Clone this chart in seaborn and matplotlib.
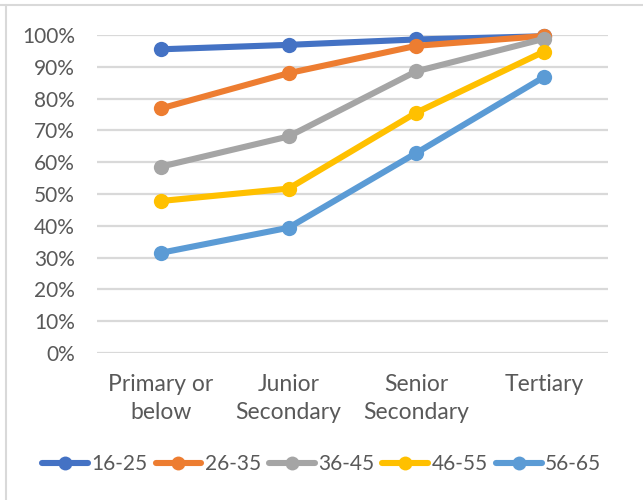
import matplotlib
matplotlib.use("Agg")
import matplotlib.pyplot as plt
import matplotlib.lines as mlines
import seaborn as sns
import pandas as pd
from matplotlib.ticker import PercentFormatter

levels = ["Primary or\nbelow", "Junior\nSecondary", "Senior\nSecondary", "Tertiary"]
age_groups = ["16-25", "26-35", "36-45", "46-55", "56-65"]

rate_16_25 = [95.5, 96.9, 98.6, 99.6]
rate_26_35 = [76.9, 88.0, 96.6, 99.7]
rate_36_45 = [58.6, 68.1, 88.6, 98.8]
rate_46_55 = [47.8, 51.7, 75.6, 94.8]
rate_56_65 = [31.5, 39.4, 62.9, 86.8]

colors = ["#4472C4", "#ED7D31", "#A5A5A5", "#FFC000", "#5B9BD5"]

series = [rate_16_25, rate_26_35, rate_36_45, rate_46_55, rate_56_65]
df = pd.DataFrame({
    "level": [lv for _ in age_groups for lv in levels],
    "age": [ag for ag in age_groups for _ in levels],
    "rate": [v for s in series for v in s],
})
df["pos"] = df["level"].map({lv: i for i, lv in enumerate(levels)})

sns.set_theme(style="white")
plt.rcParams["font.family"] = ["Lato", "DejaVu Sans"]
text_color = "#595959"
grid_color = "#D9D9D9"

fig = plt.figure(figsize=(6.43, 5.0), dpi=100)
ax = fig.add_axes([97 / 643, 1 - 353 / 500, (608 - 97) / 643, (353 - 35) / 500])

sns.lineplot(
    data=df, x="pos", y="rate", hue="age", hue_order=age_groups,
    palette=colors, marker="o", markersize=11, markeredgewidth=0,
    linewidth=4.4, sort=False, legend=False, ax=ax,
)
for ln in ax.lines:
    ln.set_clip_on(False)

ax.set_xlim(-0.5, 3.5)
ax.set_ylim(0, 100)
ax.set_yticks(range(0, 101, 10))
ax.yaxis.set_major_formatter(PercentFormatter(decimals=0))
ax.set_xticks(range(len(levels)))
ax.set_xticklabels(levels, linespacing=1.45)
ax.tick_params(axis="both", length=0, colors=text_color)
ax.tick_params(axis="x", pad=15, labelsize=16.5)
ax.tick_params(axis="y", pad=16, labelsize=15)
ax.set_xlabel("")
ax.set_ylabel("")
ax.grid(axis="y", color=grid_color, linewidth=1.6)
ax.set_axisbelow(True)
for sp in ax.spines.values():
    sp.set_visible(False)

handles = [
    mlines.Line2D([], [], color=c, linewidth=4.4, marker="o", markersize=10, markeredgewidth=0)
    for c in colors
]
fig.legend(
    handles, age_groups, loc="center", bbox_to_anchor=(0.5, 1 - 464 / 500),
    ncol=5, frameon=False, fontsize=15, labelcolor=text_color,
    handlelength=2.2, handletextpad=0.15, columnspacing=0.4,
)

# outer chart frame (top and left edges)
fig.add_artist(mlines.Line2D([0, 1], [1 - 5 / 500, 1 - 5 / 500], color=grid_color, linewidth=1.5))
fig.add_artist(mlines.Line2D([6 / 643, 6 / 643], [0, 1 - 5 / 500], color=grid_color, linewidth=1.5))

fig.savefig("out.png", dpi=100, facecolor="white")
